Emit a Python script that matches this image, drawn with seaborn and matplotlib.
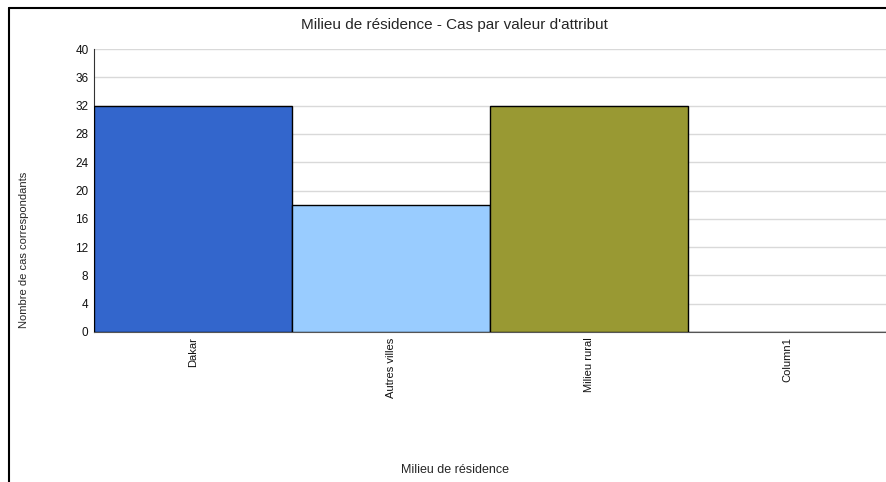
import numpy as np
import pandas as pd
import matplotlib.pyplot as plt
import seaborn as sns
from matplotlib.lines import Line2D

categories = ['Dakar', 'Autres villes', 'Milieu rural', 'Column1']
counts = [32, 18, 32, 0]
colors = ['#3366CC', '#99CCFF', '#999933', '#FF9900']
yticks = list(range(0, 41, 4))

df = pd.DataFrame({'milieu': categories, 'cas': counts})

sns.set_style('white')
plt.rcParams['font.family'] = ['Liberation Sans', 'DejaVu Sans']

fig = plt.figure(figsize=(8.86, 4.82), dpi=100)
ax = fig.add_axes([94 / 886, 1 - 332 / 482, 792 / 886, 283 / 482])

sns.barplot(data=df, x='milieu', y='cas', hue='milieu', palette=colors, saturation=1,
            width=1.0, edgecolor='black', linewidth=1, legend=False, ax=ax, zorder=3)

ax.set_ylim(0, 40)
ax.set_xlim(-0.5, len(categories) - 0.5)
ax.set_yticks(yticks)
ax.set_yticklabels([str(v) for v in yticks], fontsize=8.5)
ax.set_xticks(range(len(categories)))
ax.set_xticklabels(categories, rotation=90, fontsize=8)
ax.tick_params(axis='both', length=0, pad=4, labelcolor='#111111')
ax.grid(axis='y', color='#D9D9D9', linewidth=1, zorder=0)
ax.set_axisbelow(True)
for side in ['top', 'right']:
    ax.spines[side].set_visible(False)
ax.spines['left'].set_color('#333333')
ax.spines['bottom'].set_color('#555555')
ax.set_xlabel('')
ax.set_ylabel('')

fig.text(454 / 886, 1 - 25 / 482, "Milieu de résidence - Cas par valeur d'attribut",
         ha='center', va='center', fontsize=11)
fig.text(24 / 886, 1 - 250 / 482, 'Nombre de cas correspondants',
         ha='center', va='center', rotation=90, fontsize=8)
fig.text(455 / 886, 1 - 470 / 482, 'Milieu de résidence',
         ha='center', va='center', fontsize=9)

fig.add_artist(Line2D([8.5 / 886, 8.5 / 886], [0, 1 - 8 / 482], color='black', linewidth=1.5))
fig.add_artist(Line2D([8.5 / 886, 1], [1 - 8 / 482, 1 - 8 / 482], color='black', linewidth=1.5))

fig.savefig('out.png', dpi=100)
